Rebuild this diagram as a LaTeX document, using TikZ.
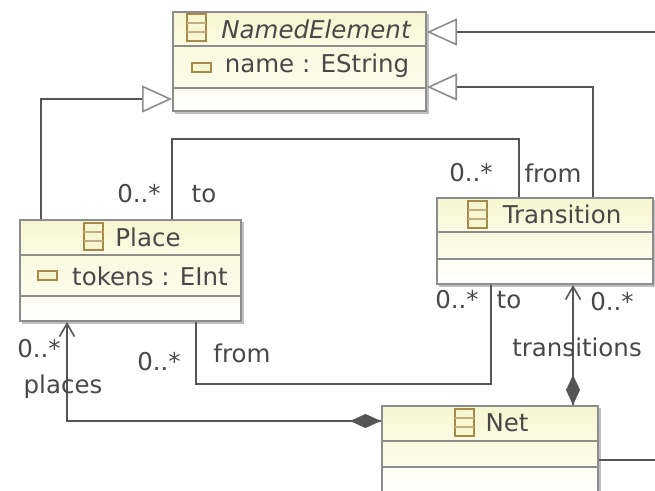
\documentclass[tikz,border=0pt]{standalone}
\usepackage{fontspec}
\setmainfont{DejaVu Sans}
\usetikzlibrary{arrows.meta}
\definecolor{ln}{HTML}{555555}
\definecolor{bx}{HTML}{8C8C8C}
\definecolor{tx}{HTML}{484848}
\definecolor{ic}{HTML}{A68A4A}
\definecolor{ha}{HTML}{F6F6D0}
\definecolor{hb}{HTML}{FBFBE4}
\definecolor{ca}{HTML}{FAFAE0}
\definecolor{cb}{HTML}{FCFCEC}
\definecolor{oa}{HTML}{FDFDF0}
\tikzset{
  x=1pt,y=-1pt,
  box/.style={draw=bx,line width=2pt,fill=white,inner sep=0pt,anchor=north west},
  hdr/.style={draw=bx,line width=1.8pt,inner sep=0pt,anchor=north west,top color=ha,bottom color=hb},
  comp/.style={draw=bx,line width=1.8pt,inner sep=0pt,anchor=north west,top color=ca,bottom color=cb},
  lastcomp/.style={draw=bx,line width=1.8pt,inner sep=0pt,anchor=north west,top color=oa,bottom color=white},
  lbl/.style={text=tx,font=\fontsize{24.5}{26}\selectfont,inner sep=0pt,anchor=center},
  conn/.style={draw=ln,line width=1.8pt},
  gen/.style={conn,-{Triangle[open,length=30pt,width=27pt,fill=white,color=bx,line width=1.6pt]}},
  barb/.style={conn,-{Straight Barb[length=13pt,width=15pt,color=ln,line width=1.6pt]}}
}
\newcommand{\classicon}[2]{%
  \draw[ic,line width=1.6pt,fill=ha] (#1,#2) rectangle ++(19,27);
  \draw[ic!70!white,line width=1.3pt] (#1,#2+9) -- ++(19,0) (#1,#2+18) -- ++(19,0);}
\newcommand{\attricon}[2]{%
  \draw[ic,line width=1.6pt,fill=ha] (#1,#2) rectangle ++(19,9);}
\begin{document}
\begin{tikzpicture}
\useasboundingbox (0,0) rectangle (655,490);
\begin{scope}
\clip (0,0) rectangle (655,490);
% shadows
\fill[black!25] (175,14) rectangle (429,114);
\fill[black!25] (22,222) rectangle (244,324);
\fill[black!25] (439,200) rectangle (655,287);
\fill[black!25] (384,408) rectangle (601,495);
% outer boxes
\node[box,minimum width=253pt,minimum height=99pt] (named) at (172,11) {};
\node[box,minimum width=221pt,minimum height=101pt] (place) at (19,219) {};
\node[box,minimum width=216pt,minimum height=86pt] (trans) at (436,197) {};
\node[box,minimum width=216pt,minimum height=100pt] (net) at (381,405) {};
% compartments
\node[hdr,minimum width=253pt,minimum height=34pt] (namedh) at (172,11) {};
\node[comp,minimum width=253pt,minimum height=42pt] (nameda) at (172,45) {};
\node[lastcomp,minimum width=253pt,minimum height=23pt] (namedo) at (172,87) {};
\node[hdr,minimum width=221pt,minimum height=35pt] (placeh) at (19,219) {};
\node[comp,minimum width=221pt,minimum height=41pt] (placea) at (19,254) {};
\node[lastcomp,minimum width=221pt,minimum height=25pt] (placeo) at (19,295) {};
\node[hdr,minimum width=216pt,minimum height=34pt] (transh) at (436,197) {};
\node[comp,minimum width=216pt,minimum height=27pt] (transa) at (436,231) {};
\node[lastcomp,minimum width=216pt,minimum height=25pt] (transo) at (436,258) {};
\node[hdr,minimum width=216pt,minimum height=35pt] (neth) at (381,405) {};
\node[comp,minimum width=216pt,minimum height=26pt] (neta) at (381,440) {};
\node[lastcomp,minimum width=216pt,minimum height=34pt] (neto) at (381,466) {};
% icons
\classicon{187}{14}
\classicon{84}{223}
\classicon{468}{201}
\classicon{455}{409}
\attricon{192}{63}
\attricon{38}{271}
% class text
\node[lbl,font=\fontsize{24.5}{26}\selectfont\itshape] (tnamed) at (316,29) {NamedElement};
\node[lbl] (tname) at (317,66) {name : EString};
\node[lbl] (tplace) at (148,237) {Place};
\node[lbl] (ttokens) at (150,276) {tokens : EInt};
\node[lbl] (ttrans) at (562,214) {Transition};
\node[lbl] (tnet) at (507,423) {Net};
% connectors
\coordinate (east) at (655,32);
\coordinate (neteast) at (655,460);
\coordinate (topmid) at (300,139);
\coordinate (botmid) at (300,384);
\draw[gen] (east) -- ([yshift=-21pt]named.north east);
\draw[gen] ([xshift=157pt]trans.north west) |- ([yshift=-76pt]named.north east);
\draw[gen] ([xshift=22pt]place.north west) |- ([yshift=-88pt]named.north west);
\draw[conn] ([xshift=153pt]place.north west) |- (topmid) -| ([xshift=83pt]trans.north west);
\draw[conn] ([xshift=177pt]place.south west) |- (botmid) -| ([xshift=55pt]trans.south west);
\draw[barb] ([yshift=-16pt]net.north west) -| ([xshift=48pt]place.south west);
\draw[barb] ([xshift=192pt]net.north west) -- ([xshift=137pt]trans.south west);
\fill[ln] (381,421) -- (365.5,414) -- (350,421) -- (365.5,428) -- cycle;
\fill[ln] (573,405) -- (566,390) -- (573,375) -- (580,390) -- cycle;
\draw[conn] ([yshift=-55pt]net.north east) -- (neteast);
% connector labels
\node[lbl] (l1) at (139,194) {0..*};
\node[lbl] (l2) at (204,194) {to};
\node[lbl] (l3) at (471,173) {0..*};
\node[lbl] (l4) at (553,173) {from};
\node[lbl] (l5) at (457,300) {0..*};
\node[lbl] (l6) at (509,300) {to};
\node[lbl] (l7) at (612,302) {0..*};
\node[lbl] (l8) at (577,347) {transitions};
\node[lbl] (l9) at (39,349) {0..*};
\node[lbl] (l10) at (63,387) {places};
\node[lbl] (l11) at (159,362) {0..*};
\node[lbl] (l12) at (242,353) {from};
\end{scope}
\end{tikzpicture}
\end{document}
